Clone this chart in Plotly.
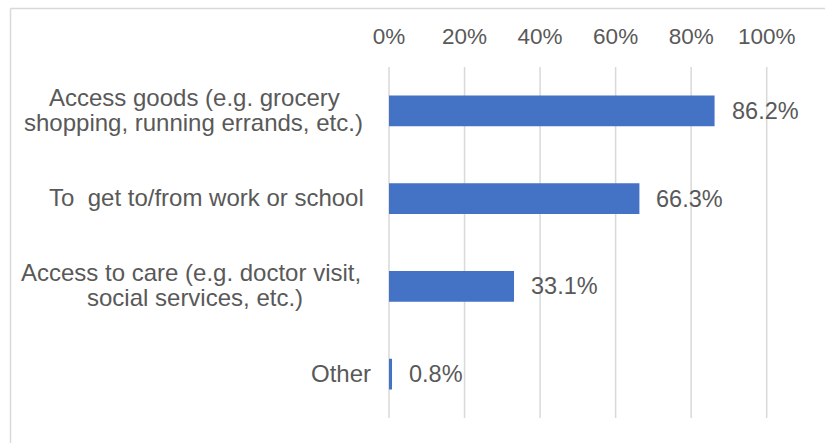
import plotly.graph_objects as go

# Survey responses: trip purposes (label lines separated by "\n")
categories = [
    "Access goods (e.g. grocery\nshopping, running errands, etc.)",
    "To  get to/from work or school",
    "Access to care (e.g. doctor visit,\nsocial services, etc.)",
    "Other",
]
shares = [86.2, 66.3, 33.1, 0.8]
tick_values = [0, 20, 40, 60, 80, 100]
tick_labels = ["0%", "20%", "40%", "60%", "80%", "100%"]

W, H = 825, 443
FONT = "Liberation Sans, Arial, sans-serif"
TEXT = "#595959"
GRID = "#d9d9d9"

# pixel layout of the plotting area
X0_PX, X100_PX = 389.0, 766.7
TOP_PX, BOT_PX = 67.0, 418.0
PAD = 1.0
px_per_unit = (X100_PX - X0_PX) / 100.0
dom_left = (X0_PX - PAD * px_per_unit) / W
dom_right = (X100_PX + PAD * px_per_unit) / W
dom_bottom = (H - BOT_PX) / H
dom_top = (H - TOP_PX) / H

fig = go.Figure(
    go.Bar(
        x=shares,
        y=list(range(len(categories))),
        orientation="h",
        marker=dict(color="#4472C4", line=dict(width=0)),
        width=0.353,
        hoverinfo="skip",
    )
)

# vertical gridlines at every tick, spanning the plotting area
for t in tick_values:
    fig.add_shape(type="line", xref="x", yref="paper",
                  x0=t, x1=t, y0=dom_bottom, y1=dom_top,
                  line=dict(color=GRID, width=1.5), layer="below")

# value labels just beyond each bar end
for i, v in enumerate(shares):
    fig.add_annotation(
        x=v, y=i, text=f"{v:.1f}%", showarrow=False,
        xanchor="left", yanchor="middle", xshift=15,
        font=dict(family=FONT, size=23.5, color=TEXT),
    )

# category labels, one annotation per text line, right edges in pixels
line_right_px = [[342, 365], [366], [363, 305], [373]]
LINE_GAP = 25
for i, label in enumerate(categories):
    lines = label.split("\n")
    n = len(lines)
    for j, line in enumerate(lines):
        fig.add_annotation(
            xref="paper", x=line_right_px[i][j] / W, y=i,
            text=line, showarrow=False,
            xanchor="right", yanchor="middle",
            yshift=((n - 1) / 2 - j) * LINE_GAP + 1,
            font=dict(family=FONT, size=24, color=TEXT),
        )

# chart frame (top and left edges)
fig.add_shape(type="line", xref="paper", yref="paper",
              x0=10.5 / W, x1=1, y0=1 - 8.5 / H, y1=1 - 8.5 / H,
              line=dict(color=GRID, width=1.5))
fig.add_shape(type="line", xref="paper", yref="paper",
              x0=10.5 / W, x1=10.5 / W, y0=0, y1=1 - 8.5 / H,
              line=dict(color=GRID, width=1.5))

fig.update_layout(
    width=W, height=H,
    margin=dict(l=0, r=0, t=0, b=0, pad=0),
    paper_bgcolor="white", plot_bgcolor="white",
    showlegend=False,
    font=dict(family=FONT, size=22, color=TEXT),
    xaxis=dict(
        side="top", range=[-PAD, 100 + PAD],
        tickvals=tick_values, ticktext=tick_labels,
        showgrid=False, zeroline=False, showline=False, ticks="",
        ticklabelstandoff=18,
        domain=[dom_left, dom_right],
        tickfont=dict(family=FONT, size=22.5, color=TEXT),
        automargin=False,
        fixedrange=True,
    ),
    yaxis=dict(
        range=[len(categories) - 0.5, -0.5],
        showgrid=False, zeroline=False, showline=False, ticks="",
        showticklabels=False,
        domain=[dom_bottom, dom_top],
        automargin=False,
        fixedrange=True,
    ),
)

fig.write_html("out.html")
